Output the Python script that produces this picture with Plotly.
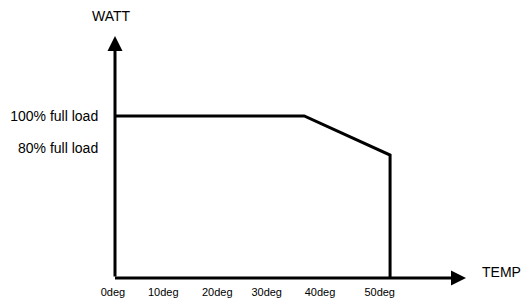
import plotly.graph_objects as go

# Data (derating curve): temperature (axis units) vs load (% of full load)
temp = [0, 35.7, 51.9, 51.9]
load = [100, 100, 75.9, 0]

# Tick labels
x_tick_labels = ["0deg", "10deg", "20deg", "30deg", "40deg", "50deg"]
x_tick_pos = [-0.38, 9.11, 19.3, 28.62, 38.68, 49.94]
y_tick_labels = ["100% full load", "80% full load"]
y_tick_pos = [100, 80]

x_axis_title = "TEMP"
y_axis_title = "WATT"

FONT = "Liberation Sans, Arial, sans-serif"

fig = go.Figure()
fig.add_trace(go.Scatter(
    x=temp, y=load, mode="lines",
    line=dict(color="black", width=3),
    showlegend=False, hoverinfo="skip", cliponaxis=False,
))

# Axis arrows
fig.add_annotation(x=0, y=149.4, ax=0, ay=0, xref="x", yref="y", axref="x", ayref="y",
                   text="", showarrow=True, arrowhead=2, arrowsize=1, arrowwidth=3,
                   arrowcolor="black", standoff=0, startstandoff=0)
fig.add_annotation(x=66.23, y=0, ax=-0.28, ay=0, xref="x", yref="y", axref="x", ayref="y",
                   text="", showarrow=True, arrowhead=2, arrowsize=1, arrowwidth=3,
                   arrowcolor="black", standoff=0, startstandoff=0)

# Axis titles
fig.add_annotation(x=-0.57, y=161.7, xref="x", yref="y", text=y_axis_title, showarrow=False,
                   font=dict(family=FONT, size=14, color="black"), xanchor="center", yanchor="middle")
fig.add_annotation(x=73.0, y=4.0, xref="x", yref="y", text=x_axis_title, showarrow=False,
                   font=dict(family=FONT, size=14, color="black"), xanchor="center", yanchor="middle")

fig.update_layout(
    template="none",
    width=523, height=298,
    margin=dict(l=110, r=0, t=0, b=20, pad=0),
    paper_bgcolor="white", plot_bgcolor="white",
    font=dict(family=FONT, color="black"),
    xaxis=dict(range=[-0.943, 76.98], showgrid=False, zeroline=False, showline=False,
               tickmode="array", tickvals=x_tick_pos, ticktext=x_tick_labels,
               ticks="outside", ticklen=4, tickcolor="rgba(0,0,0,0)",
               tickfont=dict(family=FONT, size=11, color="black"), automargin=False, fixedrange=True),
    yaxis=dict(range=[0, 171.6], showgrid=False, zeroline=False, showline=False,
               tickmode="array", tickvals=y_tick_pos, ticktext=y_tick_labels,
               ticks="outside", ticklen=8, tickcolor="rgba(0,0,0,0)",
               tickfont=dict(family=FONT, size=14, color="black"), automargin=False, fixedrange=True),
)

fig.write_html("out.html", config={"displayModeBar": False},
               post_script="document.body.style.margin='0';document.body.style.overflow='hidden';")
